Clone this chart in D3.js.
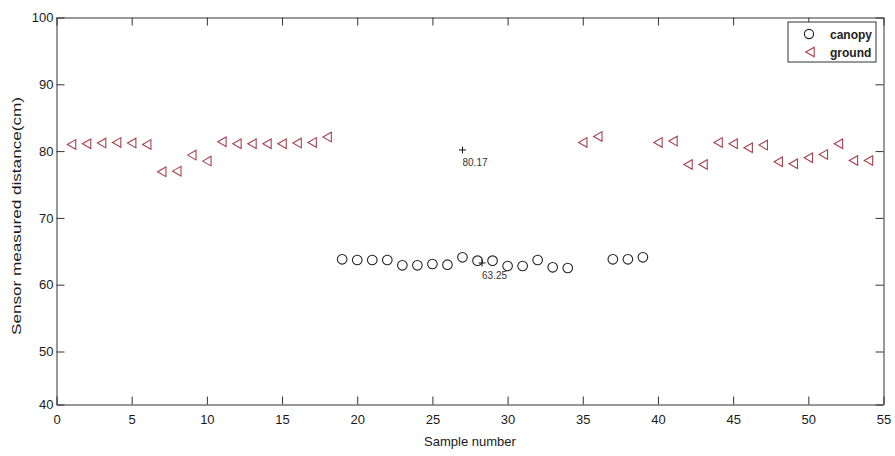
<!DOCTYPE html>
<html>
<head>
<meta charset="utf-8">
<script src="https://cdn.jsdelivr.net/npm/d3@7"></script>
<style>
  body { margin: 0; background: #fff; }
  svg { display: block; font-family: "Liberation Sans", Arial, sans-serif; }
</style>
</head>
<body>
<svg id="chart" width="895" height="456"></svg>
<script>
// samples
const canopySamples = [19, 20, 21, 22, 23, 24, 25, 26, 27, 28, 29, 30, 31, 32, 33, 34, 37, 38, 39];
const canopyValues = [63.8, 63.7, 63.7, 63.7, 62.9, 62.9, 63.1, 63.0, 64.1, 63.6, 63.6, 62.8, 62.8, 63.7, 62.6, 62.5, 63.8, 63.8, 64.1];

const groundSamples = [1, 2, 3, 4, 5, 6, 7, 8, 9, 10, 11, 12, 13, 14, 15, 16, 17, 18,
  35, 36, 40, 41, 42, 43, 44, 45, 46, 47, 48, 49, 50, 51, 52, 53, 54];
const groundValues = [81.0, 81.1, 81.2, 81.3, 81.2, 81.0, 76.9, 77.0, 79.4, 78.5, 81.4, 81.1, 81.1, 81.1, 81.1, 81.2, 81.3, 82.1,
  81.3, 82.2, 81.3, 81.5, 78.0, 78.0, 81.3, 81.1, 80.5, 80.9, 78.4, 78.1, 79.0, 79.5, 81.1, 78.6, 78.6];

const markSamples = [27, 28.3];
const markValues = [80.17, 63.25];
const markLabels = ["80.17", "63.25"];

const xTicks = [0, 5, 10, 15, 20, 25, 30, 35, 40, 45, 50, 55];
const yTicks = [40, 50, 60, 70, 80, 90, 100];

const seriesNames = ["canopy", "ground"];

const svg = d3.select("#chart");
const plotLeft = 56.5, plotRight = 883.5, plotTop = 17.5, plotBottom = 404.5;
const groundColor = "#a8414f";
const tickLen = 8;

const x = d3.scaleLinear().domain([0, 55]).range([plotLeft, plotRight]);
// the picture's vertical axis is squeezed below 50, so follow it piecewise
const y = d3.scaleLinear().domain([40, 50, 100]).range([plotBottom, 351.5, plotTop]);

const styleAxis = g => {
  g.select(".domain").attr("stroke", "#333").attr("stroke-width", 1);
  g.selectAll(".tick line").attr("stroke", "#333");
  g.selectAll(".tick text").attr("fill", "#1a1a1a").style("font-size", "13px")
    .style("font-family", "'Liberation Sans', Arial, sans-serif");
};

svg.append("g")
  .attr("transform", `translate(0,${plotBottom})`)
  .call(d3.axisBottom(x).tickValues(xTicks).tickSize(-tickLen).tickSizeOuter(0).tickPadding(10).tickFormat(d3.format("d")))
  .call(styleAxis);

svg.append("g")
  .attr("transform", `translate(0,${plotTop})`)
  .call(d3.axisTop(x).tickValues(xTicks).tickSize(-tickLen).tickSizeOuter(0).tickFormat(""))
  .call(styleAxis);

svg.append("g")
  .attr("transform", `translate(${plotLeft},0)`)
  .call(d3.axisLeft(y).tickValues(yTicks).tickSize(-tickLen).tickSizeOuter(0).tickPadding(3))
  .call(styleAxis);

svg.append("g")
  .attr("transform", `translate(${plotRight},0)`)
  .call(d3.axisRight(y).tickValues(yTicks).tickSize(-tickLen).tickSizeOuter(0).tickFormat(""))
  .call(styleAxis);

// axis titles
svg.append("text")
  .attr("x", (plotLeft + plotRight) / 2)
  .attr("y", 446)
  .attr("text-anchor", "middle")
  .style("font-size", "13px")
  .attr("fill", "#1a1a1a")
  .text("Sample number");

svg.append("text")
  .attr("transform", "translate(21,216) rotate(-90)")
  .attr("text-anchor", "middle")
  .style("font-size", "13px")
  .attr("fill", "#1a1a1a")
  .attr("textLength", 238)
  .attr("lengthAdjust", "spacingAndGlyphs")
  .text("Sensor measured distance(cm)");

// markers
const triangle = "M-4.2,0L4.2,-4.8L4.2,4.8Z";

svg.append("g")
  .selectAll("circle")
  .data(canopySamples)
  .join("circle")
  .attr("cx", d => x(d))
  .attr("cy", (d, i) => y(canopyValues[i]))
  .attr("r", 4.8)
  .attr("fill", "none")
  .attr("stroke", "#222")
  .attr("stroke-width", 1.1);

svg.append("g")
  .selectAll("path")
  .data(groundSamples)
  .join("path")
  .attr("transform", (d, i) => `translate(${x(d)},${y(groundValues[i])})`)
  .attr("d", triangle)
  .attr("fill", "none")
  .attr("stroke", groundColor)
  .attr("stroke-width", 1.1);

// data tips
const tips = svg.append("g")
  .selectAll("g")
  .data(markSamples)
  .join("g")
  .attr("transform", (d, i) => `translate(${x(d)},${y(markValues[i])})`);

tips.append("path")
  .attr("d", "M-3.5,0H3.5M0,-3.5V3.5")
  .attr("stroke", "#111")
  .attr("stroke-width", 1);

tips.append("text")
  .attr("x", 0)
  .attr("y", 16)
  .style("font-size", "10px")
  .attr("fill", "#333")
  .text((d, i) => markLabels[i]);

// legend
const legend = svg.append("g").attr("transform", "translate(788,22)");
legend.append("rect")
  .attr("width", 88)
  .attr("height", 40)
  .attr("fill", "#fff")
  .attr("stroke", "#333")
  .attr("stroke-width", 1);

const items = legend.selectAll("g")
  .data(seriesNames)
  .join("g")
  .attr("transform", (d, i) => `translate(0,${12 + i * 18})`);

items.filter((d, i) => i === 0).append("circle")
  .attr("cx", 21).attr("cy", 0).attr("r", 4.6)
  .attr("fill", "none").attr("stroke", "#222").attr("stroke-width", 1.1);

items.filter((d, i) => i === 1).append("path")
  .attr("transform", "translate(22,0)")
  .attr("d", triangle)
  .attr("fill", "none").attr("stroke", groundColor).attr("stroke-width", 1.1);

items.append("text")
  .attr("x", 42)
  .attr("y", 4.5)
  .style("font-size", "12px")
  .style("font-weight", "bold")
  .attr("fill", "#222")
  .text(d => d);
</script>
</body>
</html>
